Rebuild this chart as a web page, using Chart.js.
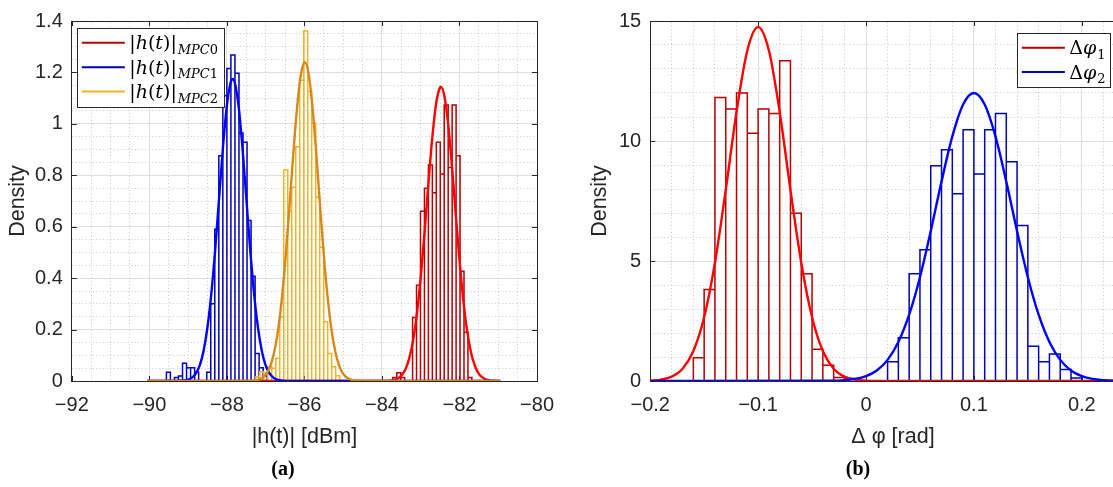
<!DOCTYPE html>
<html>
<head>
<meta charset="utf-8">
<script src="https://cdn.jsdelivr.net/npm/chart.js@4.4.1/dist/chart.umd.min.js"></script>
<style>
  html, body { margin: 0; padding: 0; background: #fff; overflow: hidden; }
  body { width: 1113px; height: 487px; position: relative; }
  #wrapA { position: absolute; left: 0; top: 0; }
  #wrapB { position: absolute; left: 566px; top: 0; }
  .cap { position: absolute; top: 457px; line-height: 24px; font: bold 20px "Liberation Serif", serif; color: #000; transform: translateX(-50%); }
</style>
</head>
<body>
<div id="wrapA"><canvas id="chartA" width="566" height="487"></canvas></div>
<div id="wrapB"><canvas id="chartB" width="600" height="487"></canvas></div>
<div class="cap" style="left:283px">(a)</div>
<div class="cap" style="left:858px">(b)</div>
<script>
// ---- values ----

// (a) |h(t)| histograms (pdf normalised), one value per bin
const mpc0BinStart = -83.72, mpc0BinWidth = 0.102;
const mpc0Density = [0.014, 0.032, 0.014, 0, 0, 0.247, 0.372, 0.66, 0.75, 0.84, 0.732, 0.928, 0.805, 1.073, 0.83, 1.073, 0.876, 0.427, 0.19, 0.014];
const mpc1BinStart = -89.56, mpc1BinWidth = 0.104;
const mpc1Density = [0.034, 0, 0.014, 0.019, 0.069, 0.052, 0.052, 0.034, 0, 0, 0.034, 0.30, 0.59, 0.876, 1.109, 1.215, 1.268, 1.197, 0.964, 0.928, 0.624, 0.407, 0.107, 0.052, 0.02];
const mpc2BinStart = -87.254, mpc2BinWidth = 0.103;
const mpc2Density = [0.017, 0.036, 0.03, 0.055, 0.05, 0.088, 0.249, 0.821, 0.66, 0.753, 0.911, 1.17, 1.361, 1.126, 1.002, 0.715, 0.52, 0.23, 0.107, 0.055, 0.02];

// (a) fitted normal curves
const mpc0FitX = [-90.05, -83.9, -83.8, -83.7, -83.6, -83.5, -83.4, -83.3, -83.2, -83.1, -83.0, -82.9, -82.8, -82.7, -82.6, -82.5, -82.48, -82.4, -82.3, -82.2, -82.1, -82.0, -81.9, -81.8, -81.7, -81.6, -81.5, -81.4, -81.3, -81.2, -81.1, -80.95];
const mpc0FitY = [0, 0.0005, 0.0014, 0.0037, 0.009, 0.021, 0.044, 0.086, 0.155, 0.26, 0.403, 0.579, 0.771, 0.949, 1.082, 1.142, 1.144, 1.116, 1.01, 0.845, 0.655, 0.47, 0.312, 0.192, 0.109, 0.058, 0.028, 0.013, 0.005, 0.002, 0.0007, 0];
const mpc1FitX = [-90.05, -89.3, -89.0, -88.9, -88.8, -88.7, -88.6, -88.5, -88.4, -88.3, -88.2, -88.1, -88.0, -87.9, -87.85, -87.8, -87.7, -87.6, -87.5, -87.4, -87.3, -87.2, -87.1, -87.0, -86.9, -86.8, -86.7, -86.5, -80.95];
const mpc1FitY = [0, 0.0002, 0.005, 0.013, 0.03, 0.061, 0.118, 0.21, 0.342, 0.514, 0.713, 0.911, 1.072, 1.163, 1.175, 1.163, 1.072, 0.911, 0.713, 0.514, 0.342, 0.21, 0.118, 0.061, 0.03, 0.013, 0.005, 0.0006, 0];
const mpc2FitX = [-90.05, -87.5, -87.3, -87.2, -87.1, -87.0, -86.9, -86.8, -86.7, -86.6, -86.5, -86.4, -86.3, -86.2, -86.1, -86.0, -85.99, -85.9, -85.8, -85.7, -85.6, -85.5, -85.4, -85.3, -85.2, -85.1, -85.0, -84.9, -84.8, -84.7, -84.5, -80.95];
const mpc2FitY = [0, 0.0003, 0.0017, 0.0044, 0.0107, 0.0242, 0.0508, 0.0987, 0.177, 0.295, 0.455, 0.648, 0.856, 1.046, 1.183, 1.2395, 1.24, 1.202, 1.079, 0.896, 0.689, 0.491, 0.324, 0.198, 0.112, 0.058, 0.028, 0.0127, 0.0053, 0.002, 0.0002, 0];

// (b) phase difference histograms
const dphi1BinStart = -0.16, dphi1BinWidth = 0.01;
const dphi1Density = [0.97, 3.81, 11.81, 11.33, 12.0, 10.32, 11.33, 11.15, 13.34, 6.99, 4.47, 1.32, 0.66, 0.15, 0.1];
const dphi2BinStart = 0.02, dphi2BinWidth = 0.01;
const dphi2Density = [0.8, 1.8, 4.47, 5.47, 8.97, 9.64, 7.8, 10.47, 8.63, 10.47, 11.15, 9.14, 6.48, 1.45, 0.8, 1.12, 0.48, 0.13];

// (b) fitted normal curves
const dphi1FitX = [-0.2, -0.19, -0.18, -0.17, -0.16, -0.15, -0.14, -0.13, -0.12, -0.11, -0.1, -0.09, -0.08, -0.07, -0.06, -0.05, -0.04, -0.03, -0.02, -0.01, 0, 0.01, 0.03, 0.25];
const dphi1FitY = [0.0155, 0.057, 0.183, 0.512, 1.249, 2.655, 4.925, 7.956, 11.21, 13.77, 14.75, 13.77, 11.21, 7.956, 4.925, 2.655, 1.249, 0.512, 0.183, 0.057, 0.0155, 0.004, 0, 0];
const dphi2FitX = [-0.2, -0.03, -0.02, -0.01, 0, 0.01, 0.02, 0.03, 0.04, 0.05, 0.06, 0.07, 0.08, 0.09, 0.1, 0.11, 0.12, 0.13, 0.14, 0.15, 0.16, 0.17, 0.18, 0.19, 0.2, 0.21, 0.22, 0.23, 0.25];
const dphi2FitY = [0, 0.012, 0.034, 0.086, 0.203, 0.44, 0.881, 1.624, 2.761, 4.325, 6.245, 8.311, 10.19, 11.52, 12.0, 11.52, 10.19, 8.311, 6.245, 4.325, 2.761, 1.624, 0.881, 0.44, 0.203, 0.086, 0.034, 0.012, 0.001];

// ticks
const xTicksA = [-92, -90, -88, -86, -84, -82, -80];
const xTickLabelsA = ['\u221292', '\u221290', '\u221288', '\u221286', '\u221284', '\u221282', '\u221280'];
const yTicksA = [0, 0.2, 0.4, 0.6, 0.8, 1, 1.2, 1.4];
const yTickLabelsA = ['0', '0.2', '0.4', '0.6', '0.8', '1', '1.2', '1.4'];
const xTicksB = [-0.2, -0.1, 0, 0.1, 0.2];
const xTickLabelsB = ['\u22120.2', '\u22120.1', '0', '0.1', '0.2'];
const yTicksB = [0, 5, 10, 15];
const yTickLabelsB = ['0', '5', '10', '15'];

// ---- styling ----
const txt = '#262626';
const darkRed = '#b30000', darkBlue = '#0000b3', amber = '#efb324';
const fitRed = '#ff0000', fitBlue = '#0000ff', fitAmber = '#d4891d';
const tickSize = 20, titleSize = 21.5;

Chart.defaults.font.family = '"Liberation Sans", Arial, sans-serif';
Chart.defaults.color = txt;

function histOutline(start, width, dens) {
  const pts = [];
  dens.forEach((h, i) => {
    const l = start + i * width, r = l + width;
    if (h > 0) pts.push({x: l, y: 0}, {x: l, y: h}, {x: r, y: h}, {x: r, y: 0});
    else pts.push({x: l, y: null});
  });
  return pts;
}
const pairs = (xs, ys) => xs.map((x, i) => ({x: x, y: ys[i]}));

function histSet(label, start, width, dens, color, order) {
  return {label: label, inLegend: true, data: histOutline(start, width, dens), borderColor: color,
    borderWidth: 1.5, pointRadius: 0, tension: 0, fill: false, spanGaps: false, order: order, borderJoinStyle: 'miter'};
}
function fitSet(xs, ys, color, order) {
  return {label: '', data: pairs(xs, ys), borderColor: color, borderWidth: 2.4, pointRadius: 0,
    cubicInterpolationMode: 'monotone', fill: false, order: order};
}

function minorTicks(min, max, step, majors) {
  const out = [];
  const n = Math.floor((max - min) / step + 1e-9);
  for (let i = 0; i <= n; i++) {
    const v = +(min + i * step).toFixed(6);
    if (!majors.some(m => Math.abs(m - v) < step / 10)) out.push({value: v});
  }
  return out;
}

// inward tick marks, as MATLAB draws them
const innerTicks = {
  id: 'innerTicks',
  beforeDatasetsDraw(chart) {
    const {ctx, chartArea: a, scales} = chart;
    ctx.save();
    ctx.strokeStyle = txt;
    ctx.lineWidth = 1;
    ctx.beginPath();
    scales.x.ticks.forEach(t => {
      const p = Math.round(scales.x.getPixelForValue(t.value)) + 0.5;
      ctx.moveTo(p, a.bottom); ctx.lineTo(p, a.bottom - 5);
      ctx.moveTo(p, a.top); ctx.lineTo(p, a.top + 5);
    });
    scales.y.ticks.forEach(t => {
      const p = Math.round(scales.y.getPixelForValue(t.value)) + 0.5;
      ctx.moveTo(a.left, p); ctx.lineTo(a.left + 5, p);
      ctx.moveTo(a.right, p); ctx.lineTo(a.right - 5, p);
    });
    ctx.stroke();
    ctx.restore();
  }
};

// legend with LaTeX-like labels: "main_sub", latin/greek lower case in italics
function drawRuns(ctx, s, x, y, size) {
  const runs = [];
  for (const ch of s) {
    const it = /[A-Za-z\u03b1-\u03c9]/.test(ch);
    if (runs.length && runs[runs.length - 1].it === it) runs[runs.length - 1].t += ch;
    else runs.push({t: ch, it: it});
  }
  runs.forEach(r => {
    ctx.font = (r.it ? 'italic ' : '') + size + 'px "DejaVu Serif", serif';
    ctx.fillText(r.t, x, y);
    x += ctx.measureText(r.t).width;
  });
  return x;
}
const mathLegend = {
  id: 'mathLegend',
  afterDatasetsDraw(chart, args, o) {
    const {ctx, chartArea: a} = chart;
    const items = chart.data.datasets.filter(d => d.inLegend);
    const bx = o.side === 'left' ? a.left + o.dx : a.right - o.dx - o.w;
    const by = a.top + o.dy;
    ctx.save();
    ctx.fillStyle = '#fff';
    ctx.fillRect(bx, by, o.w, o.h);
    ctx.strokeStyle = txt;
    ctx.lineWidth = 1;
    ctx.strokeRect(Math.round(bx) + 0.5, Math.round(by) + 0.5, Math.round(o.w), Math.round(o.h));
    items.forEach((d, i) => {
      const ry = by + o.row0 + i * o.rowGap;
      ctx.strokeStyle = d.borderColor;
      ctx.lineWidth = 2;
      ctx.beginPath();
      ctx.moveTo(bx + 4.5, ry); ctx.lineTo(bx + 47.5, ry);
      ctx.stroke();
      ctx.fillStyle = '#000';
      ctx.textBaseline = 'alphabetic';
      const [main, sub] = d.label.split('_');
      const xe = drawRuns(ctx, main, bx + 52, ry + 6.5, 19);
      if (sub) drawRuns(ctx, sub, xe + 1, ry + 11, 13);
    });
    ctx.restore();
  }
};

function axes(xMin, xMax, xT, xL, xMinor, yMin, yMax, yT, yL, yMinor, xTitle, yAxisWidth, yTitlePad) {
  const major = {color: '#dedede', drawTicks: false, lineWidth: 1};
  const minor = {color: '#c9c9c9', drawTicks: false, lineWidth: 1};
  const frame = {display: true, color: txt, width: 1};
  return {
    x: {type: 'linear', position: 'bottom', min: xMin, max: xMax,
      afterBuildTicks: s => { s.ticks = xT.map(v => ({value: v})); },
      afterFit: s => { s.height = 106; },
      ticks: {callback: (v, i) => xL[i], font: {size: tickSize}, padding: 12, maxRotation: 0, autoSkip: false},
      grid: major, border: frame,
      title: {display: true, text: xTitle, font: {size: titleSize}, padding: {top: 0, bottom: 37}}},
    y: {type: 'linear', position: 'left', min: yMin, max: yMax,
      afterBuildTicks: s => { s.ticks = yT.map(v => ({value: v})); },
      afterFit: s => { s.width = yAxisWidth; },
      ticks: {callback: (v, i) => yL[i], font: {size: tickSize}, padding: 9, autoSkip: false},
      grid: major, border: frame,
      title: {display: true, text: 'Density', font: {size: titleSize}, padding: {top: yTitlePad, bottom: 0}}},
    x2: {type: 'linear', position: 'top', min: xMin, max: xMax,
      afterBuildTicks: s => { s.ticks = minorTicks(xMin, xMax, xMinor, xT); },
      afterFit: s => { s.height = 0; },
      ticks: {display: false}, grid: minor, border: {display: true, color: txt, width: 1, dash: [1, 2.5]}},
    y2: {type: 'linear', position: 'right', min: yMin, max: yMax,
      afterBuildTicks: s => { s.ticks = minorTicks(yMin, yMax, yMinor, yT); },
      afterFit: s => { s.width = 0; },
      ticks: {display: false}, grid: minor, border: {display: true, color: txt, width: 1, dash: [1, 2.5]}}
  };
}

new Chart(document.getElementById('chartA'), {
  type: 'line',
  data: {datasets: [
    histSet('|h(t)|_MPC0', mpc0BinStart, mpc0BinWidth, mpc0Density, darkRed, 6),
    histSet('|h(t)|_MPC1', mpc1BinStart, mpc1BinWidth, mpc1Density, darkBlue, 5),
    histSet('|h(t)|_MPC2', mpc2BinStart, mpc2BinWidth, mpc2Density, amber, 4),
    fitSet(mpc0FitX, mpc0FitY, fitRed, 3),
    fitSet(mpc1FitX, mpc1FitY, fitBlue, 2),
    fitSet(mpc2FitX, mpc2FitY, fitAmber, 1)
  ]},
  options: {
    responsive: false, animation: false, devicePixelRatio: 1,
    layout: {padding: {top: 20.5, right: 20.9, left: 0, bottom: 0}},
    scales: axes(-92, -80, xTicksA, xTickLabelsA, 0.5, 0, 1.4, yTicksA, yTickLabelsA, 0.05, '|h(t)| [dBm]', 71.8, 5.1),
    plugins: {legend: {display: false}, tooltip: {enabled: false},
      mathLegend: {side: 'left', dx: 5.5, dy: 6.8, w: 147, h: 79, row0: 15, rowGap: 24.4}}
  },
  plugins: [innerTicks, mathLegend]
});

new Chart(document.getElementById('chartB'), {
  type: 'line',
  data: {datasets: [
    histSet('\u0394\u03c6_1', dphi1BinStart, dphi1BinWidth, dphi1Density, darkRed, 4),
    histSet('\u0394\u03c6_2', dphi2BinStart, dphi2BinWidth, dphi2Density, darkBlue, 3),
    fitSet(dphi1FitX, dphi1FitY, fitRed, 2),
    fitSet(dphi2FitX, dphi2FitY, fitBlue, 1)
  ]},
  options: {
    responsive: false, animation: false, devicePixelRatio: 1,
    layout: {padding: {top: 20, right: 30.25, left: 0, bottom: 0}},
    scales: axes(-0.2, 0.25, xTicksB, xTickLabelsB, 0.02, 0, 15, yTicksB, yTickLabelsB, 1, '\u0394 \u03c6 [rad]', 84.2, 21.1),
    plugins: {legend: {display: false}, tooltip: {enabled: false},
      mathLegend: {side: 'right', dx: 25, dy: 12.3, w: 93.4, h: 53.7, row0: 14.4, rowGap: 24.3}}
  },
  plugins: [innerTicks, mathLegend]
});
</script>
</body>
</html>
